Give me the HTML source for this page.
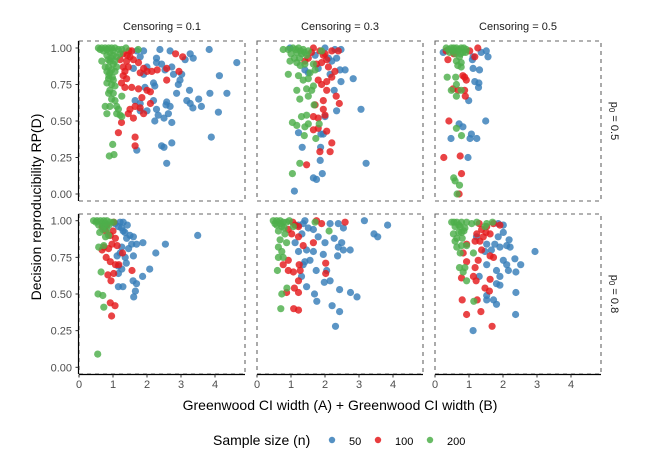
<!DOCTYPE html>
<html><head><meta charset="utf-8"><style>
html,body{margin:0;padding:0;background:#fff;}
svg{display:block;font-family:"Liberation Sans",Arial,sans-serif;}
</style></head><body>
<svg id="chart" width="663" height="459" viewBox="0 0 663 459"></svg>
<script>
const censoringLabels = ["Censoring = 0.1","Censoring = 0.3","Censoring = 0.5"];
const p0Labels = ["0.5","0.8"];
const seriesNames = ["50","100","200"];
const xTicks = [0,1,2,3,4];
const yTicks = [0,0.25,0.5,0.75,1];
const yTickLabels = ["0.00","0.25","0.50","0.75","1.00"];

// panel r0c0 (censoring 0.1, p0 0.5)
const p00_n50 = [[3.83,0.99],[4.64,0.90],[4.13,0.81],[4.35,0.69],[4.10,0.56],[3.89,0.39],[3.85,0.69],[3.60,0.60],[3.52,0.65],[3.35,0.59],[3.27,0.62],[3.17,0.64],[3.25,0.71],[3.36,0.93],[3.27,0.96],[3.12,0.92],[3.02,0.82],[2.97,0.78],[2.92,0.75],[2.87,0.69],[2.78,0.82],[2.68,0.98],[2.63,0.55],[2.58,0.63],[2.53,0.85],[2.43,0.89],[2.38,0.99],[2.28,0.93],[2.73,0.87],[2.73,0.49],[2.68,0.60],[2.56,0.61],[2.50,0.52],[2.33,0.54],[2.23,0.50],[2.28,0.58],[2.19,0.64],[2.19,0.76],[2.23,0.74],[1.90,0.82],[2.00,0.87],[1.80,0.94],[1.90,0.98],[1.70,0.98],[1.80,0.62],[1.65,0.64],[1.80,0.57],[2.00,0.57],[2.43,0.33],[2.50,0.32],[2.73,0.35],[2.58,0.21],[1.70,0.30],[1.60,0.86],[2.28,0.90],[1.94,0.73]];
const p00_n100 = [[3.05,0.94],[2.84,0.96],[2.94,0.84],[2.58,0.86],[2.58,0.78],[2.30,0.85],[2.14,0.84],[2.00,0.84],[1.90,0.86],[1.80,0.83],[1.75,0.90],[1.55,0.98],[1.50,0.94],[1.60,0.92],[1.40,0.91],[1.45,0.87],[1.35,0.84],[1.30,0.81],[1.40,0.79],[1.25,0.76],[1.35,0.73],[1.55,0.73],[1.75,0.72],[2.00,0.71],[2.10,0.70],[1.85,0.66],[2.10,0.62],[1.80,0.59],[1.65,0.60],[1.50,0.58],[1.60,0.52],[1.90,0.55],[1.45,0.55],[1.25,0.49],[1.16,0.42],[1.65,0.39],[1.65,0.33],[1.30,0.87],[1.21,0.92],[1.47,0.98],[1.30,0.96],[1.42,0.95]];
const p00_n200 = [[0.57,1.00],[0.67,1.00],[0.77,1.00],[0.87,1.00],[0.96,1.00],[1.06,1.00],[1.16,0.99],[1.26,0.99],[1.38,1.00],[1.74,0.99],[0.67,0.91],[0.82,0.95],[0.91,0.97],[1.01,0.95],[1.11,0.94],[0.91,0.91],[1.01,0.89],[0.87,0.87],[0.96,0.85],[0.82,0.84],[0.91,0.83],[1.06,0.84],[0.87,0.79],[1.01,0.78],[0.82,0.76],[0.96,0.75],[1.06,0.74],[0.91,0.71],[0.87,0.69],[1.01,0.69],[1.26,0.67],[0.96,0.65],[1.06,0.64],[0.77,0.60],[0.91,0.60],[1.11,0.60],[1.16,0.58],[0.82,0.55],[1.11,0.55],[1.21,0.54],[1.26,0.53],[0.99,0.34],[0.89,0.26],[1.03,0.27],[0.77,0.87],[1.11,0.87],[0.72,0.98],[1.20,0.96],[0.62,0.99],[0.82,0.99],[1.00,0.98],[0.95,0.93],[1.05,0.91],[0.86,0.92],[0.88,0.81],[0.98,0.80]];
// panel r0c1 (censoring 0.3, p0 0.5)
const p01_n50 = [[0.97,1.00],[2.00,1.00],[2.47,0.99],[2.34,0.93],[2.59,0.85],[2.44,0.85],[2.83,0.79],[2.47,0.77],[2.27,0.71],[2.15,0.82],[3.06,0.58],[2.34,0.57],[2.00,0.53],[1.88,0.41],[1.95,0.41],[1.22,0.42],[1.33,0.32],[1.87,0.32],[1.86,0.23],[3.21,0.21],[1.92,0.14],[1.66,0.11],[1.75,0.10],[1.10,0.02],[1.51,0.83],[1.80,0.86],[2.10,0.93],[2.20,0.91],[1.41,0.85],[1.71,0.95],[2.29,0.99]];
const p01_n100 = [[1.66,1.00],[1.85,0.98],[1.95,0.95],[2.05,0.92],[2.20,0.98],[2.39,0.98],[2.29,0.84],[2.20,0.80],[2.05,0.77],[1.90,0.75],[1.80,0.78],[2.05,0.71],[2.33,0.67],[2.42,0.62],[1.95,0.64],[1.71,0.61],[1.95,0.58],[1.66,0.53],[1.80,0.52],[2.00,0.54],[1.66,0.44],[1.80,0.45],[2.05,0.43],[2.20,0.35],[1.85,0.29],[2.15,0.29],[1.46,0.20],[1.41,0.91],[1.51,0.93],[1.75,0.89],[1.90,0.90],[2.10,0.87],[1.60,0.97],[2.00,0.96]];
const p01_n200 = [[0.77,0.99],[0.92,0.99],[1.06,1.00],[1.22,1.00],[1.36,0.99],[1.51,0.98],[1.17,0.97],[1.31,0.96],[1.46,0.95],[0.97,0.91],[1.17,0.90],[1.27,0.88],[1.41,0.89],[1.66,0.89],[0.92,0.82],[1.22,0.81],[1.36,0.78],[1.51,0.79],[1.56,0.83],[1.71,0.85],[1.17,0.71],[1.46,0.72],[1.61,0.71],[1.66,0.74],[1.26,0.65],[1.51,0.67],[1.68,0.61],[1.31,0.53],[1.46,0.54],[1.04,0.49],[1.17,0.47],[1.41,0.46],[1.51,0.48],[1.83,0.48],[1.39,0.40],[1.73,0.38],[1.26,0.21],[1.04,0.14],[1.90,0.98],[1.00,0.96],[1.10,0.93],[1.14,0.99],[1.28,0.98],[1.40,0.97],[1.25,0.93]];
// panel r0c2 (censoring 0.5, p0 0.5)
const p02_n50 = [[0.24,0.97],[1.12,0.94],[1.36,0.97],[1.51,0.98],[1.56,0.94],[1.10,0.92],[1.12,0.86],[1.31,0.85],[1.17,0.77],[1.29,0.76],[1.28,0.73],[0.99,0.64],[1.49,0.50],[0.71,0.48],[0.82,0.46],[1.07,0.41],[1.03,0.38],[1.23,0.38],[0.47,0.38],[0.97,0.25],[0.53,0.98]];
const p02_n100 = [[0.38,0.92],[0.33,0.98],[0.55,0.96],[1.02,0.98],[1.26,1.00],[1.17,0.94],[0.82,0.81],[0.92,0.78],[0.87,0.80],[0.53,0.72],[0.68,0.71],[0.87,0.71],[0.89,0.67],[0.41,0.50],[0.26,0.25],[0.74,0.26],[0.78,0.14],[0.71,0.00]];
const p02_n200 = [[0.33,1.00],[0.48,1.00],[0.63,1.00],[0.77,1.00],[0.92,0.99],[0.53,0.98],[0.67,0.98],[0.82,0.97],[0.43,0.97],[0.72,0.94],[0.63,0.91],[0.77,0.90],[0.67,0.88],[0.77,0.87],[0.36,0.80],[0.61,0.80],[0.63,0.75],[0.48,0.71],[0.77,0.71],[0.63,0.67],[0.63,0.45],[0.78,0.40],[0.55,0.11],[0.59,0.09],[0.72,0.06],[0.65,0.00],[0.55,1.00],[0.70,0.99],[0.85,1.00],[0.40,0.99],[0.60,0.96],[0.75,0.96],[0.90,0.97]];
// panel r1c0 (censoring 0.1, p0 0.8)
const p10_n50 = [[1.21,0.99],[1.30,0.99],[1.06,0.98],[1.16,0.96],[1.25,0.95],[1.35,0.92],[1.50,0.90],[1.60,0.89],[1.40,0.88],[1.55,0.84],[1.69,0.84],[1.88,0.85],[2.54,0.84],[3.49,0.90],[2.26,0.78],[1.46,0.81],[1.26,0.82],[1.21,0.78],[1.36,0.75],[1.60,0.76],[1.39,0.71],[1.26,0.67],[1.16,0.64],[2.08,0.67],[1.87,0.62],[1.59,0.59],[1.69,0.57],[1.16,0.55],[1.29,0.55],[1.66,0.52],[1.61,0.48],[1.12,0.76],[1.16,0.69],[1.42,0.97],[1.30,0.93]];
const p10_n100 = [[0.68,0.96],[0.78,0.93],[0.92,0.90],[1.07,0.88],[0.97,0.84],[0.73,0.82],[0.87,0.81],[1.12,0.83],[0.68,0.80],[0.80,0.75],[0.92,0.72],[1.07,0.70],[1.17,0.70],[1.28,0.78],[1.56,0.66],[1.02,0.64],[0.85,0.63],[0.94,0.59],[0.92,0.44],[1.06,0.42],[0.96,0.35],[1.02,0.99],[0.82,0.97],[1.00,0.93]];
const p10_n200 = [[0.43,1.00],[0.53,1.00],[0.63,1.00],[0.73,1.00],[0.82,1.00],[0.92,0.99],[1.02,0.99],[0.58,0.97],[0.73,0.96],[0.82,0.94],[0.87,0.90],[0.78,0.89],[0.61,0.92],[0.73,0.83],[0.58,0.82],[0.65,0.65],[0.56,0.50],[0.70,0.49],[0.73,0.41],[0.55,0.09],[0.68,0.98],[0.88,0.97],[0.50,0.99],[0.78,0.98],[0.70,0.94]];
// panel r1c1 (censoring 0.3, p0 0.8)
const p11_n50 = [[1.41,1.00],[1.36,0.98],[1.22,0.97],[1.51,0.95],[1.66,0.94],[2.15,0.98],[2.39,0.98],[2.54,0.95],[3.16,1.00],[3.84,0.97],[3.44,0.91],[3.55,0.89],[1.80,0.89],[2.00,0.85],[2.27,0.88],[2.49,0.85],[2.39,0.82],[2.54,0.80],[2.74,0.80],[2.37,0.76],[1.95,0.77],[1.66,0.79],[1.46,0.80],[1.22,0.79],[1.41,0.72],[1.56,0.73],[1.36,0.70],[1.74,0.66],[2.05,0.66],[1.31,0.62],[2.15,0.59],[1.98,0.58],[1.46,0.55],[2.43,0.53],[2.75,0.51],[2.94,0.48],[1.69,0.50],[1.76,0.45],[2.21,0.42],[2.43,0.38],[2.31,0.28],[1.12,0.85],[1.32,0.91]];
const p11_n100 = [[1.75,1.00],[1.90,0.98],[2.59,0.99],[1.22,0.96],[0.92,0.94],[1.02,0.91],[1.22,0.89],[1.36,0.83],[1.66,0.85],[2.02,0.71],[2.02,0.64],[1.24,0.70],[1.27,0.66],[0.92,0.66],[1.07,0.65],[1.22,0.59],[0.92,0.73],[0.77,0.70],[1.10,0.54],[1.22,0.51],[0.87,0.51],[1.08,0.40],[1.22,0.39],[1.12,0.97],[1.05,0.99]];
const p11_n200 = [[0.48,1.00],[0.58,1.00],[0.68,1.00],[0.77,0.99],[0.87,0.99],[0.58,0.97],[0.73,0.96],[0.63,0.93],[0.82,0.91],[0.68,0.87],[0.87,0.85],[0.63,0.82],[0.73,0.79],[0.63,0.75],[0.77,0.75],[0.60,0.66],[1.71,0.99],[2.12,0.93],[0.88,0.54],[0.73,0.50],[0.70,0.40],[1.07,0.96],[0.53,0.98],[0.95,1.00],[0.68,0.98],[0.80,0.95]];
// panel r1c2 (censoring 0.5, p0 0.8)
const p12_n50 = [[2.01,0.97],[1.86,0.98],[2.01,0.92],[1.86,0.89],[2.18,0.87],[2.11,0.83],[2.21,0.82],[1.91,0.82],[1.76,0.84],[1.66,0.80],[1.47,0.79],[1.52,0.84],[2.94,0.79],[2.01,0.73],[2.16,0.66],[2.35,0.74],[2.52,0.70],[2.38,0.65],[2.11,0.70],[1.81,0.66],[1.91,0.62],[1.52,0.70],[1.30,0.62],[1.81,0.57],[1.91,0.56],[2.38,0.51],[1.52,0.49],[1.72,0.46],[1.81,0.43],[1.52,0.46],[2.37,0.36],[1.12,0.25],[1.22,0.89]];
const p12_n100 = [[1.91,0.97],[1.72,0.98],[1.52,0.96],[1.37,0.94],[1.42,0.89],[1.62,0.91],[1.32,0.86],[1.18,0.86],[0.93,0.84],[1.37,0.80],[1.62,0.76],[1.72,0.75],[1.27,0.73],[0.93,0.72],[1.18,0.68],[0.78,0.61],[1.13,0.62],[1.21,0.59],[1.62,0.60],[1.47,0.54],[1.60,0.52],[1.24,0.46],[0.80,0.46],[1.35,0.38],[0.93,0.36],[1.68,0.28],[1.23,0.91],[0.83,0.78],[1.50,0.92],[1.30,0.98]];
const p12_n200 = [[0.49,0.99],[0.64,0.99],[0.78,0.99],[0.93,0.99],[1.08,0.98],[1.23,0.99],[0.59,0.96],[0.74,0.96],[0.88,0.95],[0.78,0.92],[0.54,0.91],[0.64,0.88],[0.59,0.86],[0.78,0.83],[0.64,0.82],[0.93,0.83],[0.74,0.78],[1.13,0.78],[1.47,0.96],[1.69,0.99],[0.72,0.68],[0.88,0.68],[0.83,0.65],[0.93,0.59],[1.14,0.45],[1.52,0.98],[0.70,0.97],[0.85,0.93],[0.56,0.99],[0.70,0.92],[0.80,0.88]];

const panelSeries = [
  [[p00_n50,p00_n100,p00_n200],[p01_n50,p01_n100,p01_n200],[p02_n50,p02_n100,p02_n200]],
  [[p10_n50,p10_n100,p10_n200],[p11_n50,p11_n100,p11_n200],[p12_n50,p12_n100,p12_n200]]
];

const NS="http://www.w3.org/2000/svg";
const svg=document.getElementById('chart');
const colors=["#377EB8","#E41A1C","#4DAF4A"];
const colLeft=[79,257,435], panelW=166;
const rowTop=[41,214], panelH=160;
const xPerUnit=34;
function xScale(c,v){return colLeft[c]+v*xPerUnit;}
function yScale(r,v){const y0=r===0?194:367.3, y1=r===0?48:220.7; return y0-(y0-y1)*v;}
function mk(tag,attrs,parent){const e=document.createElementNS(NS,tag);for(const k in attrs)e.setAttribute(k,attrs[k]);(parent||svg).appendChild(e);return e;}

for(let r=0;r<2;r++){
  for(let c=0;c<3;c++){
    const g=mk('g',{});
    
    
    const border=mk('rect',{x:colLeft[c],y:rowTop[r],width:panelW,height:panelH,fill:'none',stroke:'#666','stroke-width':1.1,'stroke-dasharray':'4,4'},g);
    
    
    for(let s=0;s<3;s++){
      const sg=mk('g',{fill:colors[s],'fill-opacity':0.82},g);
      
      
      panelSeries[r][c][s].forEach(p=>{
        const pt=mk('circle',{cx:xScale(c,p[0]).toFixed(1),cy:yScale(r,p[1]).toFixed(1),r:3.6},sg);
        
        
      });
    }
  }
  const ya=mk('line',{x1:78.5,x2:78.5,y1:rowTop[r],y2:rowTop[r]+panelH,stroke:'#000','stroke-width':1.2});
  
  
  yTicks.forEach((t,i)=>{
    const y=yScale(r,t);
    mk('line',{x1:75.5,x2:78.5,y1:y,y2:y,stroke:'#333','stroke-width':1});
    const tl=mk('text',{x:72,y:y+4,'text-anchor':'end','font-size':11,fill:'#4d4d4d'});
    tl.textContent=yTickLabels[i];
    
    
  });
  const st=mk('text',{x:0,y:0,'font-size':11,fill:'#1a1a1a','text-anchor':'middle',transform:'translate(611,'+(rowTop[r]+panelH/2)+') rotate(90)'});
  st.innerHTML='p<tspan font-size="8" dy="2">0</tspan><tspan dy="-2"> = '+p0Labels[r]+'</tspan>';
  
  
}
for(let c=0;c<3;c++){
  const xa=mk('line',{x1:colLeft[c],x2:colLeft[c]+panelW,y1:374.5,y2:374.5,stroke:'#000','stroke-width':1.2});
  
  
  xTicks.forEach(t=>{
    const x=xScale(c,t);
    mk('line',{x1:x,x2:x,y1:374.5,y2:377.5,stroke:'#333','stroke-width':1});
    const tl=mk('text',{x:x,y:388,'text-anchor':'middle','font-size':11,fill:'#4d4d4d'});
    tl.textContent=t;
    
    
  });
  const ct=mk('text',{x:colLeft[c]+panelW/2,y:30,'text-anchor':'middle','font-size':11,fill:'#1a1a1a'});
  ct.textContent=censoringLabels[c];
  
  
}
const xt=mk('text',{x:340,y:410,'text-anchor':'middle','font-size':14,fill:'#000'});
xt.textContent='Greenwood CI width (A) + Greenwood CI width (B)';


const yt=mk('text',{x:0,y:0,'text-anchor':'middle','font-size':14,fill:'#000',transform:'translate(41,207) rotate(-90)'});
yt.textContent='Decision reproducibility RP(D)';


const lt=mk('text',{x:213,y:445,'font-size':14,fill:'#000'});
lt.textContent='Sample size (n)';


const legX=[332,378,430], legTX=[349,395,447];
seriesNames.forEach((n,i)=>{
  const lg=mk('g',{});
  
  
  mk('circle',{cx:legX[i],cy:440,r:3.2,fill:colors[i],'fill-opacity':0.85},lg);
  const t=mk('text',{x:legTX[i],y:445,'font-size':11,fill:'#000'},lg);
  t.textContent=n;
});
</script>
</body></html>
